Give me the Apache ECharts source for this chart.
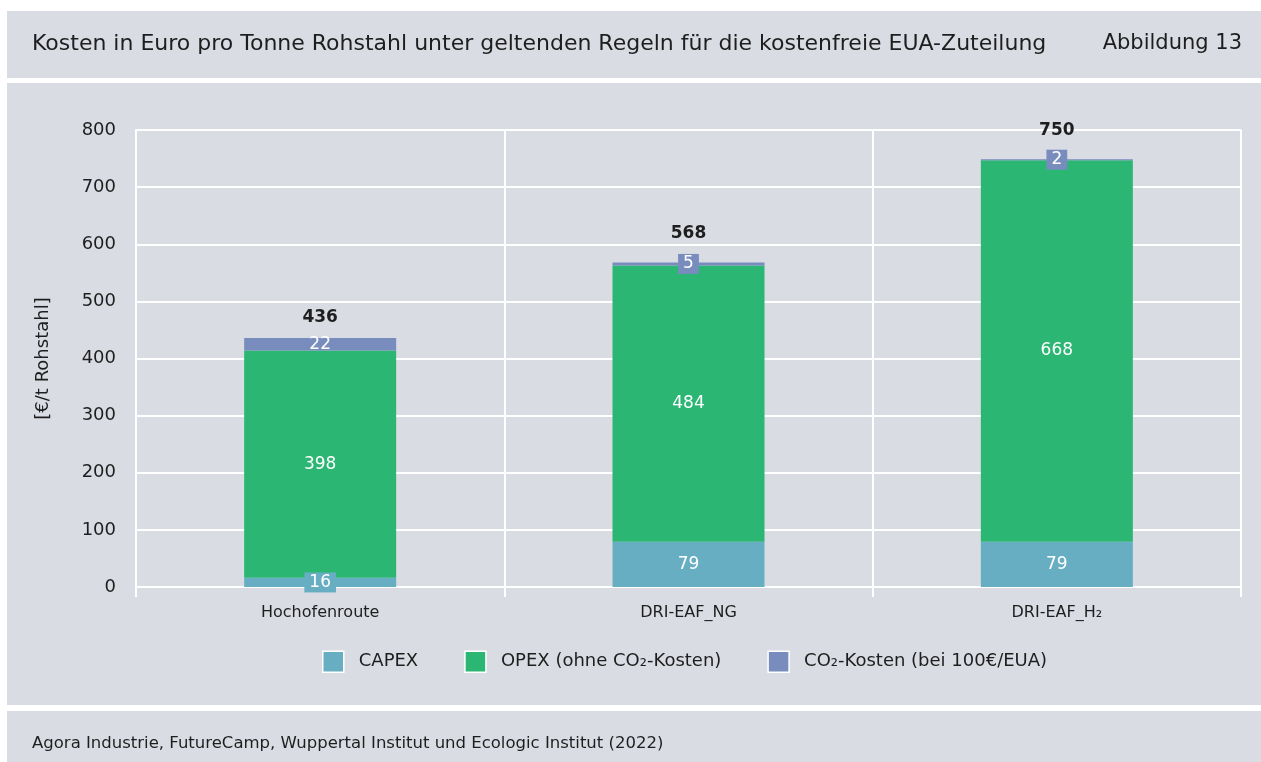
<!DOCTYPE html>
<html>
<head>
<meta charset="utf-8">
<script src="https://cdn.jsdelivr.net/npm/echarts@6/dist/echarts.min.js"></script>
<style>
  html, body { margin: 0; padding: 0; background: #ffffff; }
  #chart { width: 1261px; height: 762px; }
</style>
</head>
<body>
<div id="chart"></div>
<script>
// Daten
var categories = ['Hochofenroute', 'DRI-EAF_NG', 'DRI-EAF_H\u2082'];
var capex = [16, 79, 79];
var opex = [398, 484, 668];
var co2 = [22, 5, 2];
var totals = [436, 568, 750];
var yTicks = [0, 100, 200, 300, 400, 500, 600, 700, 800];

var seriesNames = ['CAPEX', 'OPEX (ohne CO\u2082-Kosten)', 'CO\u2082-Kosten (bei 100\u20ac/EUA)'];
var colors = ['#68aec3', '#2bb673', '#798cbe'];
var panel = '#d9dce3';
var font = 'DejaVu Sans, Noto Sans, sans-serif';
var txt = '#1e1e1e';

var chart = echarts.init(document.getElementById('chart'));

// kleine Werte bekommen eine Box in Serienfarbe
function makeData(values, color, small) {
	return values.map(function (v, i) {
		var d = { value: v };
		if (small.indexOf(i) >= 0) {
			d.label = { backgroundColor: color, padding: [2, 5, 1, 5] };
		}
		return d;
	});
}

var labelStyle = {
	show: true,
	position: 'inside',
	color: '#ffffff',
	fontSize: 17,
	fontFamily: font
};

// Abstand der Summen-Beschriftung (bei Boxen etwas mehr)
var totalGap = [12, 20, 20];

var option = {
	animation: false,
	backgroundColor: '#ffffff',
	color: colors,
	graphic: [
		{ type: 'rect', shape: { x: 7, y: 11, width: 1254, height: 67 }, style: { fill: panel }, z: -10 },
		{ type: 'rect', shape: { x: 7, y: 83, width: 1254, height: 622 }, style: { fill: panel }, z: -10 },
		{ type: 'rect', shape: { x: 7, y: 711, width: 1254, height: 51 }, style: { fill: panel }, z: -10 },
		{ type: 'text', left: 32, top: 33, style: { text: 'Kosten in Euro pro Tonne Rohstahl unter geltenden Regeln f\u00fcr die kostenfreie EUA-Zuteilung', fill: txt, font: '22px ' + font } },
		{ type: 'text', right: 19, top: 33, style: { text: 'Abbildung 13', fill: txt, font: '21px ' + font } },
		{ type: 'text', left: 32, top: 735, style: { text: 'Agora Industrie, FutureCamp, Wuppertal Institut und Ecologic Institut (2022)', fill: txt, font: '16.5px ' + font } }
	],
	grid: { left: 136, right: 20, top: 130, bottom: 175 },
	legend: {
		data: seriesNames,
		bottom: 84,
		left: 317,
		icon: 'rect',
		itemWidth: 21,
		itemHeight: 21,
		itemGap: 46,
		itemStyle: { borderColor: '#ffffff', borderWidth: 1.5 },
		textStyle: { fontSize: 18, color: txt, fontFamily: font, padding: [0, 0, 0, 10] }
	},
	xAxis: {
		type: 'category',
		data: categories,
		boundaryGap: true,
		axisLine: { show: true, lineStyle: { color: '#ffffff', width: 2 } },
		axisTick: { show: true, length: 10, lineStyle: { color: '#ffffff', width: 2 } },
		splitLine: { show: true, lineStyle: { color: '#ffffff', width: 2 } },
		axisLabel: { fontSize: 16, color: txt, fontFamily: font, margin: 18 }
	},
	yAxis: {
		type: 'value',
		min: 0,
		max: 800,
		interval: 100,
		name: '[\u20ac/t Rohstahl]',
		nameLocation: 'middle',
		nameGap: 84,
		nameRotate: 90,
		nameTextStyle: { fontSize: 18, color: txt, fontFamily: font },
		axisLine: { show: true, lineStyle: { color: '#ffffff', width: 2 } },
		axisTick: { show: false },
		splitLine: { show: true, lineStyle: { color: '#ffffff', width: 2 } },
		axisLabel: {
			fontSize: 18, color: txt, fontFamily: font, margin: 20,
			formatter: function (v) { return yTicks.indexOf(v) >= 0 ? String(v) : ''; }
		}
	},
	series: [
		{
			name: seriesNames[0], type: 'bar', stack: 'k', barWidth: 152,
			data: makeData(capex, colors[0], [0]),
			label: labelStyle
		},
		{
			name: seriesNames[1], type: 'bar', stack: 'k', barWidth: 152,
			data: makeData(opex, colors[1], []),
			label: labelStyle
		},
		{
			name: seriesNames[2], type: 'bar', stack: 'k', barWidth: 152,
			data: makeData(co2, colors[2], [1, 2]),
			label: labelStyle
		},
		{
			name: 'Summe', type: 'bar', stack: 'k', barWidth: 152,
			data: totals.map(function (t, i) {
				return { value: 0, label: { distance: totalGap[i] } };
			}),
			itemStyle: { color: 'transparent' },
			label: {
				show: true, position: 'top',
				color: txt, fontSize: 17, fontWeight: 'bold', fontFamily: font,
				formatter: function (p) { return totals[p.dataIndex]; }
			}
		}
	]
};

chart.setOption(option);
</script>
</body>
</html>
